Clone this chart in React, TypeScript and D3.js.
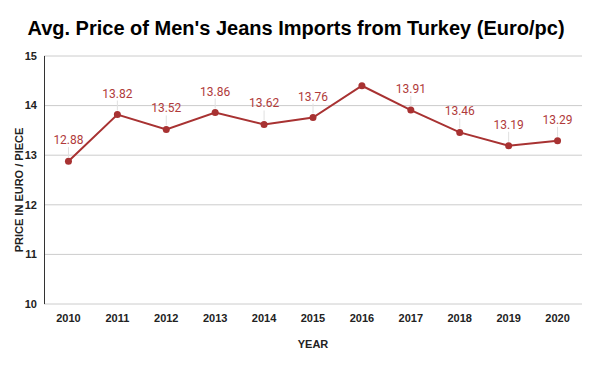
import { useEffect, useRef } from 'react';
import * as d3 from 'd3';

const years = ['2010', '2011', '2012', '2013', '2014', '2015', '2016', '2017', '2018', '2019', '2020'];
const prices = [12.88, 13.82, 13.52, 13.86, 13.62, 13.76, 14.4, 13.91, 13.46, 13.19, 13.29];
const shownLabels = [true, true, true, true, true, true, false, true, true, true, true];
const yTicks = [10, 11, 12, 13, 14, 15];

const App = () => {
  const ref = useRef<SVGSVGElement>(null);

  useEffect(() => {
    const svg = d3.select(ref.current);
    svg.selectAll('*').remove();

    const width = 600;
    const height = 371;
    const m = { top: 56, right: 18, bottom: 67, left: 44 };

    const x = d3.scaleBand().domain(years).range([m.left, width - m.right]);
    const y = d3.scaleLinear().domain([10, 15]).range([height - m.bottom, m.top]);

    svg.append('rect').attr('width', width).attr('height', height).attr('fill', '#fff');

    // gridlines
    svg
      .append('g')
      .selectAll('line')
      .data(yTicks)
      .enter()
      .append('line')
      .attr('x1', m.left)
      .attr('x2', width - m.right)
      .attr('y1', (d) => y(d))
      .attr('y2', (d) => y(d))
      .attr('stroke', '#cccccc')
      .attr('stroke-width', 1);

    // left axis line
    svg
      .append('line')
      .attr('x1', m.left + 0.5)
      .attr('x2', m.left + 0.5)
      .attr('y1', y(15))
      .attr('y2', y(10))
      .attr('stroke', '#333')
      .attr('stroke-width', 1);

    // y tick labels
    svg
      .append('g')
      .selectAll('text')
      .data(yTicks)
      .enter()
      .append('text')
      .attr('x', m.left - 7)
      .attr('y', (d) => y(d))
      .attr('dy', '0.35em')
      .attr('text-anchor', 'end')
      .style('font', 'bold 11px "Liberation Sans", Arial, sans-serif')
      .attr('fill', '#222')
      .text((d) => d);

    // x tick labels
    svg
      .append('g')
      .selectAll('text')
      .data(years)
      .enter()
      .append('text')
      .attr('x', (d) => x(d)! + x.bandwidth() / 2)
      .attr('y', y(10) + 18)
      .attr('text-anchor', 'middle')
      .style('font', 'bold 11px "Liberation Sans", Arial, sans-serif')
      .attr('fill', '#222')
      .text((d) => d);

    const pts = years.map((yr, i) => ({ yr, v: prices[i], show: shownLabels[i] }));
    const cx = (d: { yr: string }) => x(d.yr)! + x.bandwidth() / 2;

    // leader lines
    svg
      .append('g')
      .selectAll('line')
      .data(pts.filter((d) => d.show))
      .enter()
      .append('line')
      .attr('x1', cx)
      .attr('x2', cx)
      .attr('y1', (d) => y(d.v) - 4)
      .attr('y2', (d) => y(d.v) - 14)
      .attr('stroke', '#e0e0e0')
      .attr('stroke-width', 1);

    const line = d3
      .line<{ yr: string; v: number }>()
      .x(cx)
      .y((d) => y(d.v));

    svg
      .append('path')
      .datum(pts)
      .attr('d', line)
      .attr('fill', 'none')
      .attr('stroke', '#a83232')
      .attr('stroke-width', 2);

    svg
      .append('g')
      .selectAll('circle')
      .data(pts)
      .enter()
      .append('circle')
      .attr('cx', cx)
      .attr('cy', (d) => y(d.v))
      .attr('r', 3.5)
      .attr('fill', '#a83232');

    svg
      .append('g')
      .selectAll('text')
      .data(pts.filter((d) => d.show))
      .enter()
      .append('text')
      .attr('x', cx)
      .attr('y', (d) => y(d.v) - 17)
      .attr('text-anchor', 'middle')
      .style('font', '12px Roboto, sans-serif')
      .attr('fill', '#b03a3a')
      .text((d) => d.v.toFixed(2));

    // titles
    svg
      .append('text')
      .attr('x', 296)
      .attr('y', 35)
      .attr('text-anchor', 'middle')
      .style('font', 'bold 20px "Liberation Sans", Arial, sans-serif')
      .attr('fill', '#000')
      .text("Avg. Price of Men's Jeans Imports from Turkey (Euro/pc)");

    svg
      .append('text')
      .attr('x', 313)
      .attr('y', 348)
      .attr('text-anchor', 'middle')
      .style('font', 'bold 11px "Liberation Sans", Arial, sans-serif')
      .attr('fill', '#222')
      .text('YEAR');

    svg
      .append('text')
      .attr('transform', `translate(23,190) rotate(-90)`)
      .attr('text-anchor', 'middle')
      .style('font', 'bold 11px "Liberation Sans", Arial, sans-serif')
      .attr('fill', '#222')
      .text('PRICE IN EURO / PIECE');
  }, []);

  return (
    <svg
      ref={ref}
      width={600}
      height={371}
      style={{ position: 'absolute', left: 0, top: 0, display: 'block' }}
    />
  );
};

export default App;
